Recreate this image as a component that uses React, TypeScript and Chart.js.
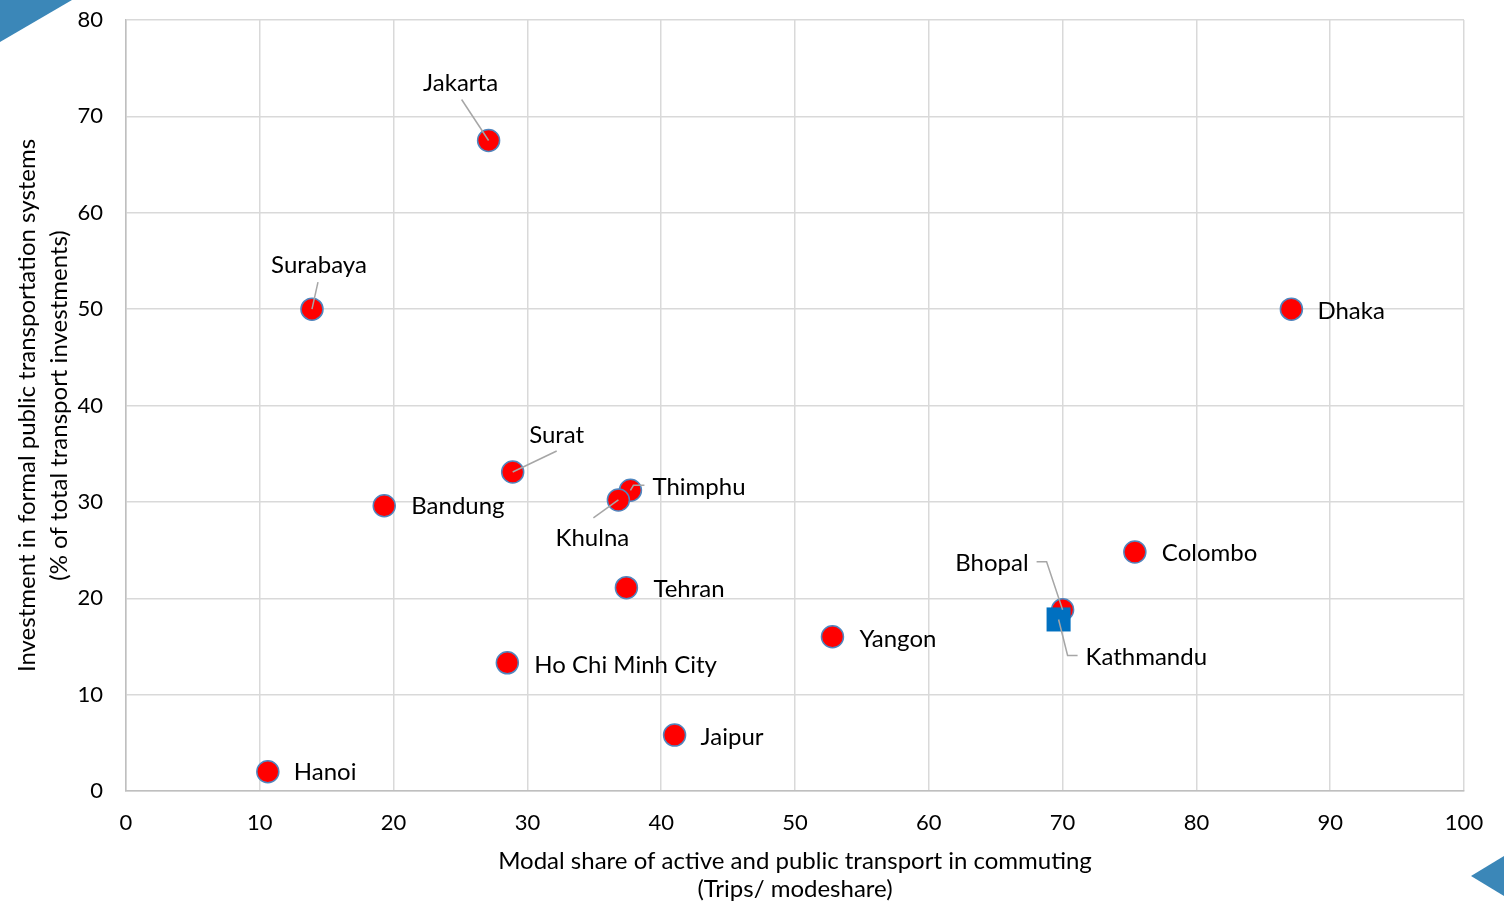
import React, { useEffect, useRef } from "react";
import { Chart, registerables } from "chart.js";

Chart.register(...registerables);

// ---- Data ----
const cities = [
  "Jakarta", "Surabaya", "Dhaka", "Surat", "Bandung", "Thimphu", "Khulna",
  "Tehran", "Colombo", "Bhopal", "Yangon", "Ho Chi Minh City", "Jaipur", "Hanoi",
];
const modalShare = [27.1, 13.9, 87.1, 28.9, 19.3, 37.7, 36.8, 37.4, 75.4, 70.0, 52.8, 28.5, 41.0, 10.6];
const investment = [67.5, 50.0, 50.0, 33.1, 29.6, 31.2, 30.2, 21.1, 24.8, 18.8, 16.0, 13.3, 5.8, 2.0];

const highlightCity = ["Kathmandu"];
const highlightShare = [69.7];
const highlightInvestment = [17.8];

const xTicks = [0, 10, 20, 30, 40, 50, 60, 70, 80, 90, 100];
const yTicks = [0, 10, 20, 30, 40, 50, 60, 70, 80];

const xTitle = ["Modal share of active and public transport in commuting", "(Trips/ modeshare)"];
const yTitle = ["Investment in formal public transportation systems", "(% of total transport investments)"];

// ---- Label styling (pixel offsets from the point; presentation only) ----
type LabelStyle = { dx: number; dy: number; align: CanvasTextAlign; leader?: number[][] };
const labelStyles: Record<string, LabelStyle> = {
  Jakarta: { dx: -28, dy: -57, align: "center", leader: [[-27, -41], [0, 0]] },
  Surabaya: { dx: 7, dy: -44, align: "center", leader: [[6, -27], [0, 0]] },
  Dhaka: { dx: 26, dy: 2, align: "left" },
  Surat: { dx: 44, dy: -37, align: "center", leader: [[44, -21], [0, 0]] },
  Bandung: { dx: 27, dy: 1, align: "left" },
  Thimphu: { dx: 22, dy: -3, align: "left", leader: [[14, -5], [3, -5], [0, 0]] },
  Khulna: { dx: -26, dy: 38, align: "center", leader: [[-25, 18], [0, 0]] },
  Tehran: { dx: 27, dy: 2, align: "left" },
  Colombo: { dx: 27, dy: 1, align: "left" },
  Bhopal: { dx: -34, dy: -47, align: "right", leader: [[-26, -48], [-16, -48], [0, 0]] },
  Yangon: { dx: 27, dy: 2, align: "left" },
  "Ho Chi Minh City": { dx: 27, dy: 2, align: "left" },
  Jaipur: { dx: 26, dy: 2, align: "left" },
  Hanoi: { dx: 26, dy: 1, align: "left" },
  Kathmandu: { dx: 27, dy: 38, align: "left", leader: [[19, 36], [9, 36], [0, 0]] },
};

const FONT = "Lato, 'Open Sans', sans-serif";
const TEXT = "#000000";

const labelPlugin = {
  id: "cityLabels",
  afterDatasetsDraw(chart: any) {
    const ctx = chart.ctx;
    ctx.save();
    chart.data.datasets.forEach((ds: any, di: number) => {
      const meta = chart.getDatasetMeta(di);
      meta.data.forEach((el: any, i: number) => {
        const name = ds.cityNames[i];
        const st = labelStyles[name];
        if (!st) return;
        const px = el.x;
        const py = el.y;
        if (st.leader) {
          ctx.beginPath();
          ctx.strokeStyle = "#a6a6a6";
          ctx.lineWidth = 1.5;
          st.leader.forEach((p, k) => {
            if (k === 0) ctx.moveTo(px + p[0], py + p[1]);
            else ctx.lineTo(px + p[0], py + p[1]);
          });
          ctx.stroke();
        }
        ctx.fillStyle = TEXT;
        ctx.font = `24px ${FONT}`;
        ctx.textAlign = st.align;
        ctx.textBaseline = "middle";
        ctx.fillText(name, px + st.dx, py + st.dy);
      });
    });
    ctx.restore();
  },
};

const decorPlugin = {
  id: "decor",
  afterDraw(chart: any) {
    const ctx = chart.ctx;
    ctx.save();
    ctx.fillStyle = "#3b87b8";
    ctx.beginPath();
    ctx.moveTo(0, 0);
    ctx.lineTo(72, 0);
    ctx.lineTo(0, 42);
    ctx.closePath();
    ctx.fill();
    ctx.beginPath();
    ctx.moveTo(1471, 876);
    ctx.lineTo(1504, 856);
    ctx.lineTo(1504, 896);
    ctx.closePath();
    ctx.fill();
    ctx.restore();
  },
};

export default function App() {
  const canvasRef = useRef<HTMLCanvasElement | null>(null);

  useEffect(() => {
    if (!canvasRef.current) return;
    const chart = new Chart(canvasRef.current, {
      type: "scatter",
      data: {
        datasets: [
          {
            label: "Cities",
            cityNames: cities,
            data: modalShare.map((x, i) => ({ x, y: investment[i] })),
            backgroundColor: "#ff0000",
            borderColor: "#4f86bf",
            borderWidth: 1.5,
            pointRadius: 11,
            pointHoverRadius: 11,
            order: 2,
          } as any,
          {
            label: "Kathmandu",
            cityNames: highlightCity,
            data: highlightShare.map((x, i) => ({ x, y: highlightInvestment[i] })),
            backgroundColor: "#0070c0",
            borderColor: "#0070c0",
            borderWidth: 0,
            pointStyle: "rect",
            pointRadius: 17,
            pointHoverRadius: 17,
            order: 1,
          } as any,
        ],
      },
      options: {
        responsive: false,
        animation: false,
        devicePixelRatio: 1,
        layout: { padding: { left: 0, right: 40, top: 20, bottom: 0 } },
        plugins: {
          legend: { display: false },
          tooltip: { enabled: false },
        },
        scales: {
          x: {
            type: "linear",
            min: 0,
            max: 100,
            afterBuildTicks: (scale: any) => {
              scale.ticks = xTicks.map((v) => ({ value: v }));
            },
            afterFit: (scale: any) => {
              scale.height = 114;
              scale.paddingLeft = 0;
              scale.paddingRight = 0;
            },
            grid: { color: "#d9d9d9", lineWidth: 1.5, drawTicks: false },
            border: { color: "#bfbfbf", width: 1.5 },
            ticks: {
              padding: 19,
              color: TEXT,
              font: { family: FONT, size: 22 },
              maxRotation: 0,
            },
            title: {
              display: true,
              text: xTitle,
              color: TEXT,
              font: { family: FONT, size: 24, lineHeight: 28 / 24 },
              padding: { top: 0, bottom: 2 },
            },
          },
          y: {
            type: "linear",
            min: 0,
            max: 80,
            afterBuildTicks: (scale: any) => {
              scale.ticks = yTicks.map((v) => ({ value: v }));
            },
            afterFit: (scale: any) => {
              scale.width = 126;
              scale.paddingTop = 0;
              scale.paddingBottom = 0;
            },
            grid: { color: "#d9d9d9", lineWidth: 1.5, drawTicks: false },
            border: { color: "#bfbfbf", width: 1.5 },
            ticks: {
              padding: 23,
              color: TEXT,
              font: { family: FONT, size: 22 },
            },
            title: {
              display: true,
              text: yTitle,
              color: TEXT,
              font: { family: FONT, size: 24, lineHeight: 32 / 24 },
              padding: { top: 11, bottom: 0 },
            },
          },
        },
      } as any,
      plugins: [labelPlugin, decorPlugin],
    });
    return () => chart.destroy();
  }, []);

  return (
    <div style={{ position: "absolute", left: 0, top: 0, width: 1504, height: 905, background: "#ffffff" }}>
      <canvas ref={canvasRef} width={1504} height={905} style={{ display: "block" }} />
    </div>
  );
}
